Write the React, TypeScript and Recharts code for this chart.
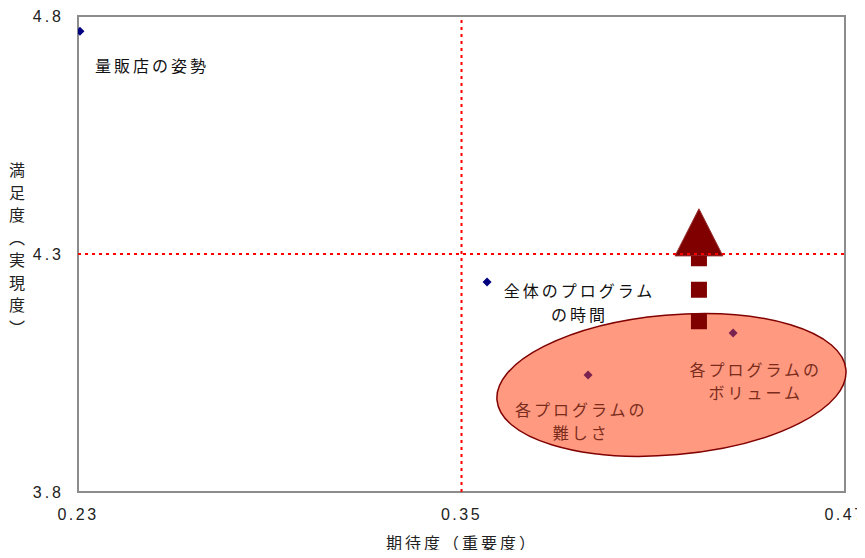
import React from "react";
import {
  ScatterChart,
  Scatter,
  XAxis,
  YAxis,
  ReferenceLine,
  ReferenceArea,
} from "recharts";

// axis ticks
const xTicks = [0.23, 0.35, 0.47];
const yTicks = [3.8, 4.3, 4.8];

// average lines
const xAverage = 0.35;
const yAverage = 4.3;

// items outside the ellipse
const blueItems = [
  { name: "量販店の姿勢", x: 0.2306, y: 4.768 },
  { name: "全体のプログラムの時間", x: 0.358, y: 4.241 },
];

// items inside the ellipse
const redItems = [
  { name: "各プログラムの難しさ", x: 0.3896, y: 4.046 },
  { name: "各プログラムのボリューム", x: 0.435, y: 4.134 },
];

// ellipse box (unrotated)
const ellipseX = [0.3609, 0.4705];
const ellipseY = [3.878, 4.172];

// improvement arrow
const arrowX = 0.4243;
const arrowFrom = 4.142;
const arrowTo = 4.296;
const arrowHeadX = [0.4168, 0.4318];
const arrowHeadY = [4.296, 4.395];

// labels (one entry per line)
const labels = [
  { x: 0.2353, y: 4.695, text: "量販店の姿勢", anchor: "start", color: "#111" },
  { x: 0.3869, y: 4.222, text: "全体のプログラム", anchor: "middle", color: "#111" },
  { x: 0.3869, y: 4.171, text: "の時間", anchor: "middle", color: "#111" },
  { x: 0.4421, y: 4.056, text: "各プログラムの", anchor: "middle", color: "#7a2c1c" },
  { x: 0.4421, y: 4.008, text: "ボリューム", anchor: "middle", color: "#7a2c1c" },
  { x: 0.3875, y: 3.972, text: "各プログラムの", anchor: "middle", color: "#7a2c1c" },
  { x: 0.3875, y: 3.924, text: "難しさ", anchor: "middle", color: "#7a2c1c" },
];

const jpFont = "'Noto Sans CJK JP', 'Noto Sans', sans-serif";
const numFont = "'Liberation Sans', Arial, sans-serif";

const diamond = (color: string) => (props: any) => {
  const { cx, cy } = props;
  const r = 4.5;
  return (
    <polygon
      points={`${cx},${cy - r} ${cx + r},${cy} ${cx},${cy + r} ${cx - r},${cy}`}
      fill={color}
    />
  );
};

const labelShape = (props: any) => {
  const { cx, cy, payload } = props;
  return (
    <text
      x={cx}
      y={cy + 6}
      textAnchor={payload.anchor}
      fill={payload.color}
      fontFamily={jpFont}
      fontSize={16}
      letterSpacing={3}
    >
      {payload.text}
    </text>
  );
};

const XTick = (props: any) => {
  const { x, y, payload } = props;
  return (
    <text
      x={x}
      y={y + 14}
      textAnchor="middle"
      fill="#222"
      fontFamily={numFont}
      fontSize={16}
      letterSpacing={2.5}
    >
      {payload.value.toFixed(2)}
    </text>
  );
};

const YTick = (props: any) => {
  const { x, y, payload } = props;
  return (
    <text
      x={x}
      y={y + 6}
      textAnchor="end"
      fill="#222"
      fontFamily={numFont}
      fontSize={16}
      letterSpacing={3}
    >
      {payload.value.toFixed(1)}
    </text>
  );
};

export default function App() {
  return (
    <div style={{ margin: -8, width: 865, height: 558, background: "#fff" }}>
      <ScatterChart
        width={865}
        height={558}
        margin={{ top: 16, right: 20, left: 0, bottom: 0 }}
      >
        <XAxis
          type="number"
          dataKey="x"
          domain={[0.23, 0.47]}
          ticks={xTicks}
          allowDataOverflow
          height={66}
          axisLine={false}
          tickLine={false}
          tickSize={0}
          tickMargin={14}
          tick={<XTick />}
          label={{
            content: () => (
              <text
                x={462}
                y={549}
                textAnchor="middle"
                fontFamily={jpFont}
                fontSize={16}
                letterSpacing={3}
                fill="#222"
              >
                期待度（重要度）
              </text>
            ),
          }}
        />
        <YAxis
          type="number"
          dataKey="y"
          domain={[3.8, 4.8]}
          ticks={yTicks}
          allowDataOverflow
          width={78}
          axisLine={false}
          tickLine={false}
          tickSize={0}
          tickMargin={14}
          tick={<YTick />}
          label={{
            content: () => (
              <text
                x={17}
                y={252}
                textAnchor="middle"
                fontFamily={jpFont}
                fontSize={16}
                letterSpacing={6.5}
                fill="#222"
                style={{ writingMode: "vertical-rl" }}
              >
                満足度（実現度）
              </text>
            ),
          }}
        />
        <ReferenceArea
          x1={0.23}
          x2={0.47}
          y1={3.8}
          y2={4.8}
          fill="none"
          stroke="#8c8c8c"
          strokeWidth={2}
          fillOpacity={1}
        />
        <ReferenceArea
          x1={ellipseX[0]}
          x2={ellipseX[1]}
          y1={ellipseY[0]}
          y2={ellipseY[1]}
          ifOverflow="visible"
          shape={(p: any) => {
            const cx = p.x + p.width / 2;
            const cy = p.y + p.height / 2;
            return (
              <ellipse
                cx={cx}
                cy={cy}
                rx={p.width / 2}
                ry={p.height / 2}
                fill="#ff9980"
                stroke="#800000"
                strokeWidth={1.5}
                transform={`rotate(-5 ${cx} ${cy})`}
              />
            );
          }}
        />
        <ReferenceLine
          x={xAverage}
          stroke="#ff0000"
          strokeWidth={2}
          strokeDasharray="3 4"
        />
        <ReferenceLine
          y={yAverage}
          stroke="#ff0000"
          strokeWidth={2}
          strokeDasharray="3 4"
        />
        <ReferenceLine
          segment={[
            { x: arrowX, y: arrowFrom },
            { x: arrowX, y: arrowTo },
          ]}
          stroke="#800000"
          strokeWidth={16}
          strokeDasharray="16 15.5"
        />
        <ReferenceArea
          x1={arrowHeadX[0]}
          x2={arrowHeadX[1]}
          y1={arrowHeadY[0]}
          y2={arrowHeadY[1]}
          shape={(p: any) => (
            <polygon
              points={`${p.x},${p.y + p.height} ${p.x + p.width},${p.y + p.height} ${p.x + p.width / 2},${p.y}`}
              fill="#800000"
              stroke="#993333"
              strokeWidth={1}
            />
          )}
        />
        <Scatter
          data={blueItems}
          shape={diamond("#000080")}
          isAnimationActive={false}
        />
        <Scatter
          data={redItems}
          shape={diamond("#7b2350")}
          isAnimationActive={false}
        />
        <Scatter
          data={labels}
          shape={labelShape}
          isAnimationActive={false}
        />
      </ScatterChart>
    </div>
  );
}
